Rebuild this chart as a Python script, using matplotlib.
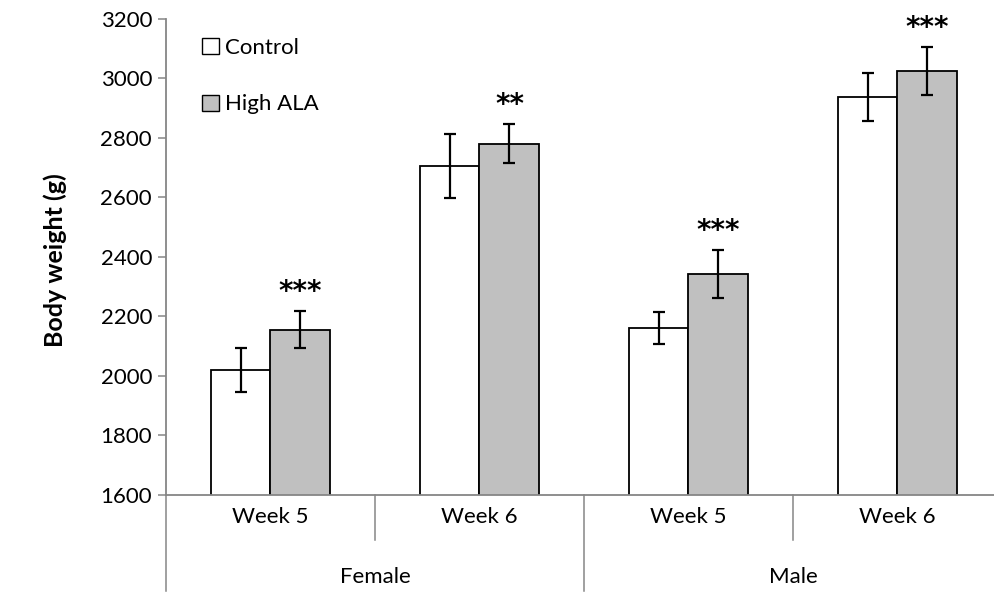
import matplotlib
matplotlib.use("Agg")
import matplotlib.pyplot as plt
from matplotlib.patches import Patch

# values
groups = ["Week 5", "Week 6", "Week 5", "Week 6"]
sexes = ["Female", "Male"]
control = [2019, 2705, 2160, 2936]
control_err = [75, 107, 55, 80]
high_ala = [2155, 2780, 2341, 3023]
high_ala_err = [63, 65, 81, 81]
stars = ["***", "**", "***", "***"]

plt.rcParams['font.family'] = ['Lato', 'DejaVu Sans']
axis_grey = "#868686"
fs = 16

fig = plt.figure(figsize=(9.95, 5.93), dpi=100)
ax = fig.add_axes([166 / 995, 1 - 494.7 / 593, 836 / 995, 476 / 593])

x = list(range(len(groups)))
w = 0.287
ax.bar([i - w / 2 for i in x], control, w, color="white",
       edgecolor="black", linewidth=1.3, zorder=2)
ax.bar([i + w / 2 for i in x], high_ala, w, color="#c0c0c0",
       edgecolor="black", linewidth=1.3, zorder=2)
ax.errorbar([i - w / 2 for i in x], control, yerr=control_err, fmt="none",
            ecolor="black", elinewidth=1.6, capsize=4.5, capthick=1.6, zorder=3)
ax.errorbar([i + w / 2 for i in x], high_ala, yerr=high_ala_err, fmt="none",
            ecolor="black", elinewidth=1.6, capsize=4.5, capthick=1.6, zorder=3)

# significance stars above the High ALA bars
for i in x:
    ax.annotate(stars[i], (i + w / 2, high_ala[i] + high_ala_err[i]),
                xytext=(0, 8), textcoords="offset points", ha="center",
                va="baseline", fontsize=20, fontweight="bold",
                family="DejaVu Sans", annotation_clip=False)

ax.set_xlim(-0.5, 3.5)
ax.set_ylim(1600, 3200)
ax.set_yticks(range(1600, 3201, 200))
ax.tick_params(axis="y", direction="out", length=6, width=1.1,
               color=axis_grey, labelsize=fs, pad=4)
ax.set_xticks(x)
ax.set_xticklabels(groups, fontsize=fs)
ax.tick_params(axis="x", length=0, pad=9)

for side in ["top", "right"]:
    ax.spines[side].set_visible(False)
for side in ["left", "bottom"]:
    ax.spines[side].set_color(axis_grey)
    ax.spines[side].set_linewidth(1.3)

# multi-level category separators below the axis
tr = ax.get_xaxis_transform()
for sep in [0.5, 2.5]:
    ax.plot([sep, sep], [0, -0.095], transform=tr, color=axis_grey,
            linewidth=1.1, clip_on=False)
for sep in [-0.5, 1.5, 3.5]:
    ax.plot([sep, sep], [0, -0.202], transform=tr, color=axis_grey,
            linewidth=1.1, clip_on=False)
for j, sex in enumerate(sexes):
    ax.text(2 * j + 0.5, -0.172, sex, transform=tr, ha="center",
            va="center", fontsize=fs)

fig.text(55 / 995, 1 - 260 / 593, "Body weight (g)", rotation=90,
         ha="center", va="center", fontsize=18, fontweight="bold")

handles = [Patch(facecolor="white", edgecolor="black", linewidth=1.0),
           Patch(facecolor="#c0c0c0", edgecolor="black", linewidth=1.0)]
ax.legend(handles, ["Control", "High ALA"], loc="upper left",
          bbox_to_anchor=(0.043, 0.96), frameon=False, fontsize=fs,
          handlelength=0.75, handleheight=0.75, handletextpad=0.3,
          labelspacing=1.65, borderpad=0, borderaxespad=0)

fig.savefig("out.png", dpi=100)
